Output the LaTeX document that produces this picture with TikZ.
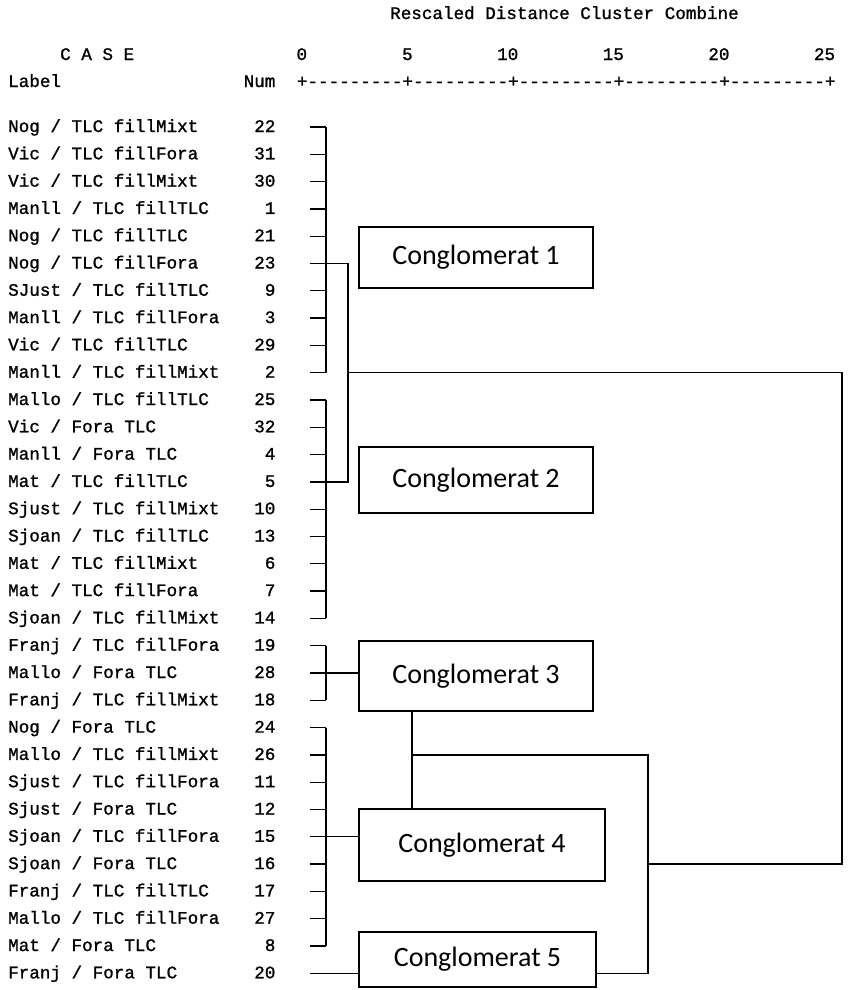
\documentclass[tikz,border=0pt]{standalone}
\usepackage{fontspec}
\setmainfont{Carlito}
\newfontfamily\dendmono{Liberation Mono}[Ligatures=TeXOff, FakeBold=1.2]
\newfontfamily\boxfont{Carlito}
\usetikzlibrary{calc}

\begin{document}
\begin{tikzpicture}[x=1pt,y=-1pt,
  casetext/.style={font=\dendmono\fontsize{17.6}{20}\selectfont, inner sep=0pt, text=black},
  lbl/.style={casetext, anchor=base west},
  num/.style={casetext, anchor=base east},
  link/.style={line width=1.3pt, black},
  cluster/.style={draw, line width=1.6pt, fill=white, rectangle, inner sep=0pt,
    font=\boxfont\fontsize{28}{30}\selectfont}
]
\useasboundingbox (0,0) rectangle (851,990);

% ---------- header ----------
\node[lbl] (title) at (390,19) {Rescaled Distance Cluster Combine};
\node[lbl] (casehdr) at (60,60) {C A S E};
\node[lbl] (labelhdr) at (8,87) {Label};
\node[num] (numhdr) at (275.6,87) {Num};
\node[lbl] (axis) at (296.7,87) {+---------+---------+---------+---------+---------+};
\foreach \k/\v in {0/0,1/5,2/10,3/15,4/20,5/25}{
  \node[num] (tick\k) at ({302+105.6*\k+5.28},60) {\v};
}

% ---------- cases ----------
\foreach \i/\lab/\n in {
  1/{Nog / TLC fillMixt}/22,
  2/{Vic / TLC fillFora}/31,
  3/{Vic / TLC fillMixt}/30,
  4/{Manll / TLC fillTLC}/1,
  5/{Nog / TLC fillTLC}/21,
  6/{Nog / TLC fillFora}/23,
  7/{SJust / TLC fillTLC}/9,
  8/{Manll / TLC fillFora}/3,
  9/{Vic / TLC fillTLC}/29,
  10/{Manll / TLC fillMixt}/2,
  11/{Mallo / TLC fillTLC}/25,
  12/{Vic / Fora TLC}/32,
  13/{Manll / Fora TLC}/4,
  14/{Mat / TLC fillTLC}/5,
  15/{Sjust / TLC fillMixt}/10,
  16/{Sjoan / TLC fillTLC}/13,
  17/{Mat / TLC fillMixt}/6,
  18/{Mat / TLC fillFora}/7,
  19/{Sjoan / TLC fillMixt}/14,
  20/{Franj / TLC fillFora}/19,
  21/{Mallo / Fora TLC}/28,
  22/{Franj / TLC fillMixt}/18,
  23/{Nog / Fora TLC}/24,
  24/{Mallo / TLC fillMixt}/26,
  25/{Sjust / TLC fillFora}/11,
  26/{Sjust / Fora TLC}/12,
  27/{Sjoan / TLC fillFora}/15,
  28/{Sjoan / Fora TLC}/16,
  29/{Franj / TLC fillTLC}/17,
  30/{Mallo / TLC fillFora}/27,
  31/{Mat / Fora TLC}/8,
  32/{Franj / Fora TLC}/20}{
  \pgfmathsetmacro\yy{127+27.3*(\i-1)}
  \node[lbl] (lab\i) at (8,\yy+5) {\lab};
  \node[num] (num\i) at (275.6,\yy+5) {\n};
  \coordinate (t\i) at (310,\yy);
  \coordinate (v\i) at (326,\yy);
}

% ---------- cluster boxes ----------
\node[cluster, minimum width=234pt, minimum height=61pt] (box1) at (476,257.5) {Conglomerat 1};
\node[cluster, minimum width=234pt, minimum height=66pt] (box2) at (476,480) {Conglomerat 2};
\node[cluster, minimum width=234pt, minimum height=70pt] (box3) at (476,676) {Conglomerat 3};
\node[cluster, minimum width=246pt, minimum height=72pt] (box4) at (482,845) {Conglomerat 4};
\node[cluster, minimum width=237pt, minimum height=55pt] (box5) at (477.5,959.5) {Conglomerat 5};

% ---------- dendrogram ----------
\foreach \i in {1,...,31}{ \draw[link] (t\i) -- (v\i); }
\draw[link] (v1) -- (v10);
\draw[link] (v11) -- (v19);
\draw[link] (v20) -- (v22);
\draw[link] (v23) -- (v31);

\coordinate (xA) at (348,0);
\coordinate (xB) at (412,0);
\coordinate (xC) at (648,0);
\coordinate (xD) at (842,0);

\coordinate (j1) at (v6 -| xA);
\coordinate (j2) at (v14 -| xA);
\coordinate (j12) at (v10 -| xA);
\coordinate (e12) at (v10 -| xD);
\coordinate (k34) at (v24 -| xB);
\coordinate (c34) at (v24 -| xC);
\coordinate (c5) at (t32 -| xC);
\coordinate (m345) at ($(c34)!0.5!(c5)$);
\coordinate (e345) at (m345 -| xD);

\draw[link] (v6) -- (j1) -- (j2) -- (v14);
\draw[link] (j12) -- (e12) -- (e345) -- (m345);
\draw[link] (v21) -- (v21 -| box3.west);
\draw[link] (v27) -- (v27 -| box4.west);
\draw[link] (box3.south -| xB) -- (box4.north -| xB);
\draw[link] (k34) -- (c34) -- (c5) -- (c5 -| box5.east);
\draw[link] (t32) -- (t32 -| box5.west);
\end{tikzpicture}
\end{document}
